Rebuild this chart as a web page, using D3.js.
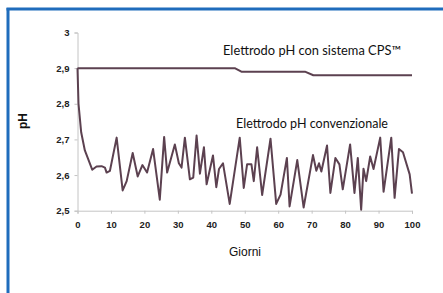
<!DOCTYPE html>
<html><head><meta charset="utf-8">
<script src="https://cdn.jsdelivr.net/npm/d3@7"></script>
<style>html,body{margin:0;padding:0;background:#fff;}svg{display:block;}</style>
</head><body>
<script>
const xTicks = [0,10,20,30,40,50,60,70,80,90,100];
const yTicks = [2.5,2.6,2.7,2.8,2.9,3];
const cpsDays = [0,47,49,68,70.5,100];
const cpsValues = [2.9,2.9,2.89,2.89,2.88,2.88];
const convDays = [0,0.3,1.1,2.2,4.4,5.7,7.2,8.2,8.7,9.7,11.7,13.5,14.7,16.5,18.0,19.4,20.8,22.6,24.6,25.9,26.8,29.1,30.3,31.1,32.1,33.6,34.6,35.6,36.6,37.8,38.6,40.5,41.5,42.3,43.5,45.5,48.5,49.7,50.7,52.0,52.7,53.7,55.2,57.7,59.4,60.7,62.6,63.4,65.7,67.6,70.4,71.4,72.2,72.9,74.6,75.6,77.1,78.3,79.3,81.5,82.8,83.8,84.8,85.5,86.3,87.5,88.5,90.5,91.5,93.8,94.8,96.1,97.3,99.3,100];
const convValues = [2.9,2.8,2.72,2.669,2.615,2.624,2.625,2.621,2.607,2.612,2.705,2.557,2.583,2.662,2.596,2.628,2.607,2.673,2.531,2.707,2.607,2.686,2.633,2.621,2.705,2.588,2.593,2.711,2.604,2.678,2.574,2.655,2.566,2.617,2.633,2.519,2.705,2.564,2.63,2.63,2.583,2.678,2.544,2.702,2.519,2.545,2.648,2.512,2.642,2.509,2.656,2.612,2.633,2.61,2.683,2.55,2.648,2.63,2.56,2.686,2.55,2.648,2.503,2.618,2.583,2.652,2.617,2.705,2.553,2.705,2.536,2.673,2.664,2.602,2.548];
const labelCPS = "Elettrodo pH con sistema CPS™";
const labelConv = "Elettrodo pH convenzionale";
const xTitle = "Giorni";
const yTitle = "pH";

const W = 443, H = 293;
const svg = d3.select("body").append("svg").attr("width", W).attr("height", H);
svg.append("rect").attr("width", W).attr("height", H).attr("fill", "#fff");

// frame
const blue = "#1f6cbc";
svg.append("line").attr("x1", 8).attr("x2", 8).attr("y1", 8).attr("y2", H).attr("stroke", blue).attr("stroke-width", 3);
svg.append("line").attr("x1", 6.5).attr("x2", W).attr("y1", 9).attr("y2", 9).attr("stroke", blue).attr("stroke-width", 3);

const x = d3.scaleLinear().domain([0, 100]).range([77.5, 412]);
const y = d3.scaleLinear().domain([2.5, 3]).range([210.7, 32.5]);
const fmt = d => d3.format(".1f")(d).replace(".0", "").replace(".", ",");

const axisColor = "#c4c4c4";
const gy = svg.append("g").attr("transform", "translate(77.5,0)")
  .call(d3.axisLeft(y).tickValues(yTicks).tickSize(3).tickPadding(5).tickFormat(fmt));
const gx = svg.append("g").attr("transform", "translate(0,210.7)")
  .call(d3.axisBottom(x).tickValues(xTicks).tickSize(3).tickPadding(8).tickFormat(d3.format("d")));
[gx, gy].forEach(g => {
  g.select(".domain").attr("stroke", axisColor);
  g.selectAll(".tick line").attr("stroke", axisColor);
  g.selectAll(".tick text").attr("fill", "#222").attr("font-family", "Liberation Sans, Arial, sans-serif")
    .attr("font-size", 9.5).attr("font-weight", "bold");
});

const lineColor = "#5c4150";
const lineGen = d3.line().x(d => x(d[0])).y(d => y(d[1]));
svg.append("path").datum(cpsDays.map((d, i) => [d, cpsValues[i]]))
  .attr("d", lineGen).attr("fill", "none").attr("stroke", lineColor).attr("stroke-width", 2).attr("stroke-linejoin", "round");
svg.append("path").datum(convDays.map((d, i) => [d, convValues[i]]))
  .attr("d", lineGen).attr("fill", "none").attr("stroke", lineColor).attr("stroke-width", 2).attr("stroke-linejoin", "round");

const annFont = "Lato, 'Open Sans', sans-serif";
svg.append("text").attr("x", 223).attr("y", 55).text(labelCPS)
  .attr("font-family", annFont).attr("font-size", 13).attr("fill", "#111")
  .attr("textLength", 178).attr("lengthAdjust", "spacingAndGlyphs");
svg.append("text").attr("x", 236).attr("y", 127.5).text(labelConv)
  .attr("font-family", annFont).attr("font-size", 13).attr("fill", "#111")
  .attr("textLength", 152).attr("lengthAdjust", "spacingAndGlyphs");

svg.append("text").attr("x", 245).attr("y", 256).attr("text-anchor", "middle").text(xTitle)
  .attr("font-family", "Liberation Sans, Arial, sans-serif").attr("font-size", 12).attr("fill", "#111");
svg.append("text").attr("transform", "translate(27,121) rotate(-90)").attr("text-anchor", "middle").text(yTitle)
  .attr("font-family", "Liberation Sans, Arial, sans-serif").attr("font-size", 12).attr("font-weight", "bold").attr("fill", "#111");
</script>
</body></html>
